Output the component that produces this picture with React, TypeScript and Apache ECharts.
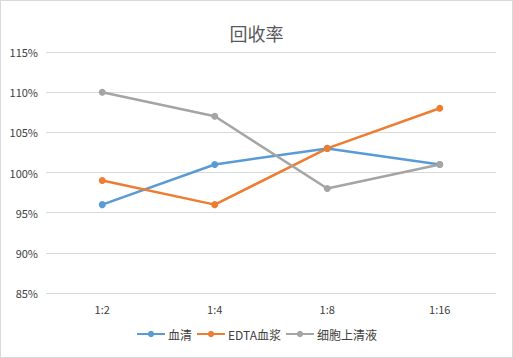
import React, { useEffect, useRef } from "react";
import * as echarts from "echarts";

const categories = ["1:2", "1:4", "1:8", "1:16"];
const serum = [96, 101, 103, 101];
const edta = [99, 96, 103, 108];
const supernatant = [110, 107, 98, 101];
const seriesNames = ["血清", "EDTA血浆", "细胞上清液"];
const colors = ["#5B9BD5", "#ED7D31", "#A5A5A5"];

export default function App() {
  const ref = useRef<HTMLDivElement>(null);
  useEffect(() => {
    const chart = echarts.init(ref.current!, undefined, { renderer: "svg" });
    const font = "'Noto Sans CJK SC', 'Noto Sans', sans-serif";
    const mk = (name: string, data: number[], color: string) => ({
      name,
      type: "line",
      data,
      symbol: "circle",
      symbolSize: 7,
      itemStyle: { color },
      lineStyle: { color, width: 2.5 },
    });
    chart.setOption({
      animation: false,
      color: colors,
      title: {
        text: "回收率",
        left: "center",
        top: 18,
        textStyle: { fontSize: 18, fontWeight: "normal", color: "#595959", fontFamily: font },
      },
      legend: {
        bottom: 12,
        left: "center",
        itemGap: 4,
        itemWidth: 28,
        itemHeight: 8,
        textStyle: { fontSize: 12, color: "#404040", fontFamily: font, padding: [0, 0, 0, -2] },
        data: seriesNames,
      },
      grid: { left: 45, right: 16, top: 51, bottom: 64 },
      xAxis: {
        type: "category",
        data: categories,
        axisLine: { show: false },
        axisTick: { show: false },
        axisLabel: { fontSize: 11, color: "#404040", fontFamily: font, margin: 10 },
      },
      yAxis: {
        type: "value",
        min: 85,
        max: 115,
        interval: 5,
        axisLine: { show: false },
        axisTick: { show: false },
        splitLine: { lineStyle: { color: "#D9D9D9", width: 1 } },
        axisLabel: {
          fontSize: 11,
          color: "#404040",
          fontFamily: font,
          margin: 8,
          formatter: (v: number) => v + "%",
        },
      },
      series: [
        mk(seriesNames[0], serum, colors[0]),
        mk(seriesNames[1], edta, colors[1]),
        mk(seriesNames[2], supernatant, colors[2]),
      ],
    });
    return () => chart.dispose();
  }, []);
  return (
    <div
      ref={ref}
      style={{
        position: "fixed",
        left: 0,
        top: 0,
        width: 513,
        height: 358,
        boxSizing: "border-box",
        border: "1px solid #D9D9D9",
        background: "#fff",
      }}
    />
  );
}
